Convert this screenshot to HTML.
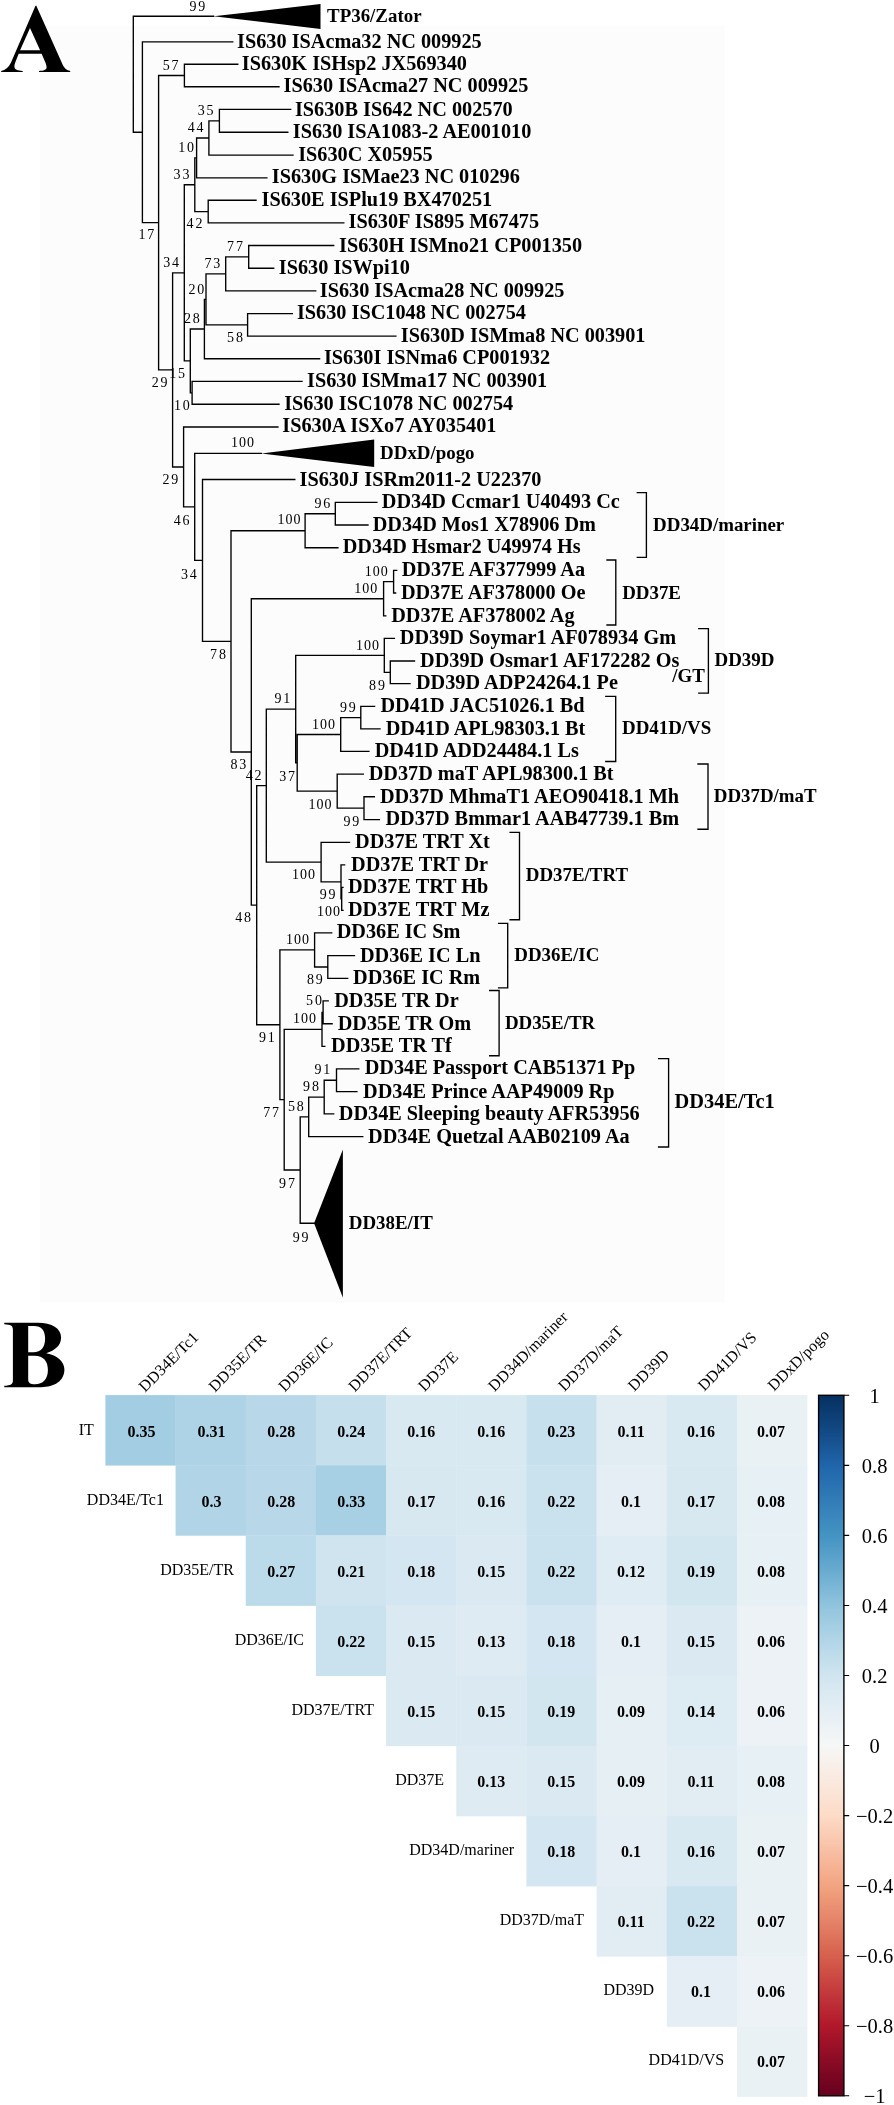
<!DOCTYPE html><html><head><meta charset="utf-8"><style>html,body{margin:0;padding:0;background:#fff;}svg{display:block;will-change:transform}.l{font:bold 20.25px "Liberation Serif",serif;fill:#000}.c{font-family:"Liberation Serif",serif;font-weight:bold;fill:#000}.b{font:14px "Liberation Serif",serif;fill:#000;letter-spacing:1.8px}.b3{letter-spacing:1.0px}.v{font:bold 16px "Liberation Serif",serif;fill:#000;text-anchor:middle}.r{font:16px "Liberation Serif",serif;fill:#000;text-anchor:end}.cl{font:16px "Liberation Serif",serif;fill:#000}.t{font:20.5px "Liberation Serif",serif;fill:#000;text-anchor:middle}</style></head><body><svg width="894" height="2105" viewBox="0 0 894 2105"><rect x="40" y="26" width="684.6" height="1276.4" fill="#fcfcfc"/><path fill-rule="evenodd" fill="#000" d="M36.2 5.4L62.6 64.6C64.5 68.6 66.5 70.3 70.2 70.9L70.2 72.1L39 72.1L39 70.9C43.5 70.6 46.6 69.8 46.6 67.4C46.6 66 46 64 45.3 62.3L41.6 53.7L18.7 53.7L15.6 61.5C14.8 63.5 14.4 65.2 14.4 66.5C14.4 69.6 17.5 70.7 22.7 70.9L22.7 72.1L1.2 72.1L1.2 70.9C5.5 70.3 8.5 67.5 10.9 62.8L35.4 6ZM30 28.1L40.1 50.2L20.1 50.2Z"/><path d="M133.3 16.3H213.6M142.4 41.9H232.75M184.4 64.2H237.8M184.4 86.7H279M184.4 64.2V86.7M158.6 75.45H184.4M219.4 109.4H290.7M219.4 132.2H287.8M219.4 109.4V132.2M208.9 120.8H219.4M208.9 155.1H293M208.9 120.8V155.1M196.6 137.95H208.9M196.6 177.9H266.9M196.6 137.95V177.9M194.8 157.93H196.6M208.2 200.2H256M208.2 222.9H343.8M208.2 200.2V222.9M194.8 211.55H208.2M194.8 157.93V211.55M184.3 184.74H194.8M248.7 245.5H333.7M248.7 268.2H273.7M248.7 245.5V268.2M225.7 256.85H248.7M225.7 290.9H315.7M225.7 256.85V290.9M206 273.88H225.7M247.6 313.6H292.3M247.6 336.1H395.9M247.6 313.6V336.1M206 324.85H247.6M206 273.88V324.85M204.4 299.36H206M204.4 358.7H319.6M204.4 299.36V358.7M190.3 329.03H204.4M192.1 381.4H302M192.1 404.2H279M192.1 381.4V404.2M190.3 392.8H192.1M190.3 329.03V392.8M184.3 360.92H190.3M184.3 184.74V360.92M172.6 272.83H184.3M183.6 427H277.9M194.7 453.4H261.4M202.5 479.5H294.8M335.3 502.4H376.9M335.3 525H368M335.3 502.4V525M305.1 513.7H335.3M305.1 547.7H337.9M305.1 513.7V547.7M231 530.7H305.1M393.6 570.3H396.7M393.6 593H395.6M393.6 570.3V593M383.6 581.65H393.6M383.6 615.8H385.8M383.6 581.65V615.8M251.3 598.72H383.6M384.3 638.3H394.4M390.3 661H414.5M390.3 683.6H410M390.3 661V683.6M384.3 672.3H390.3M384.3 638.3V672.3M295.7 655.3H384.3M360.8 706.3H374.6M360.8 728.8H380M360.8 706.3V728.8M340.7 717.55H360.8M340.7 751.4H368.9M340.7 717.55V751.4M297.2 734.47H340.7M337.2 774.1H363.3M364 796.7H374.3M364 819.6H379.4M364 796.7V819.6M337.2 808.15H364M337.2 774.1V808.15M297.2 791.12H337.2M297.2 734.47V791.12M295.7 762.8H297.2M295.7 655.3V762.8M266.3 709.05H295.7M321.1 842.3H349.5M341 864.9H344.6M341.7 887.3H343M341.7 910.3H343M341.7 887.3V910.3M341 898.8H341.7M341 864.9V898.8M321.1 881.85H341M321.1 842.3V881.85M266.3 862.07H321.1M266.3 709.05V862.07M256.7 785.56H266.3M314.6 932.9H331.7M327.8 955.6H354.5M327.8 978.3H347.7M327.8 955.6V978.3M314.6 966.95H327.8M314.6 932.9V966.95M279.9 949.92H314.6M323.1 1000.9H328.2M323.1 1023.7H332.1M323.1 1000.9V1023.7M322 1012.3H323.1M322 1046.3H324.8M322 1012.3V1046.3M284.2 1029.3H322M336.5 1068.9H358.8M336.5 1091.6H356.9M336.5 1068.9V1091.6M324.2 1080.25H336.5M324.2 1113.9H333.7M324.2 1080.25V1113.9M308.7 1097.08H324.2M308.7 1136.6H362.75M308.7 1097.08V1136.6M300.2 1116.84H308.7M300.2 1223.2H314.1M300.2 1116.84V1223.2M284.2 1170.02H300.2M284.2 1029.3V1170.02M279.9 1099.66H284.2M279.9 949.92V1099.66M256.7 1024.79H279.9M256.7 785.56V1024.79M251.3 905.18H256.7M251.3 598.72V905.18M231 751.95H251.3M231 530.7V751.95M202.5 641.33H231M202.5 479.5V641.33M194.7 560.41H202.5M194.7 453.4V560.41M183.6 506.91H194.7M183.6 427V506.91M172.6 466.95H183.6M172.6 272.83V466.95M158.6 369.89H172.6M158.6 75.45V369.89M142.4 222.67H158.6M142.4 41.9V222.67M133.3 132.28H142.4M133.3 16.3V132.28M637.3 492.6H646.4V557.3H637.3M607 560H615.8V625H607M698.8 628.6H708.4V693.1H698.8M605.8 696.3H615.7V761.5H605.8M698 764H708V829.2H698M510.1 832.3H519.5V919.7H510.1M498.6 923.3H507.7V987.8H498.6M489.7 990.5H499.1V1055.7H489.7M658.6 1058.6H668.6V1147H658.6" stroke="#000" stroke-width="1.35" fill="none" stroke-linecap="square"/><path d="M213.6 16.3L320.5 4L320.5 29Z" fill="#000"/><path d="M261.4 453.4L374.2 439.4L374.2 467Z" fill="#000"/><path d="M314.1 1223.2L342.9 1149.4L342.9 1297.7Z" fill="#000"/><text class="l" x="237.05" y="47.5">IS630 ISAcma32 NC 009925</text><text class="l" x="241.85" y="70.3">IS630K ISHsp2 JX569340</text><text class="l" x="283.57" y="92.4">IS630 ISAcma27 NC 009925</text><text class="l" x="294.95" y="115.7">IS630B IS642 NC 002570</text><text class="l" x="292.77" y="138">IS630 ISA1083-2 AE001010</text><text class="l" x="298.2" y="160.7">IS630C X05955</text><text class="l" x="271.8" y="183.3">IS630G ISMae23 NC 010296</text><text class="l" x="261.57" y="206">IS630E ISPlu19 BX470251</text><text class="l" x="348.57" y="228.2">IS630F IS895 M67475</text><text class="l" x="339" y="251.7">IS630H ISMno21 CP001350</text><text class="l" x="278.8" y="274.1">IS630 ISWpi10</text><text class="l" x="319.75" y="296.7">IS630 ISAcma28 NC 009925</text><text class="l" x="296.95" y="319.4">IS630 ISC1048 NC 002754</text><text class="l" x="400.8" y="342.3">IS630D ISMma8 NC 003901</text><text class="l" x="323.95" y="364.1">IS630I ISNma6 CP001932</text><text class="l" x="307" y="387.2">IS630 ISMma17 NC 003901</text><text class="l" x="284.2" y="409.9">IS630 ISC1078 NC 002754</text><text class="l" x="282.28" y="432.4">IS630A ISXo7 AY035401</text><text class="l" x="299.57" y="486">IS630J ISRm2011-2 U22370</text><text class="l" x="381.87" y="508.1">DD34D Ccmar1 U40493 Cc</text><text class="l" x="372.69" y="530.5">DD34D Mos1 X78906 Dm</text><text class="l" x="342.67" y="553.1">DD34D Hsmar2 U49974 Hs</text><text class="l" x="401.67" y="576.1">DD37E AF377999 Aa</text><text class="l" x="400.89" y="598.8">DD37E AF378000 Oe</text><text class="l" x="391.2" y="621.6">DD37E AF378002 Ag</text><text class="l" x="399.87" y="644.1">DD39D Soymar1 AF078934 Gm</text><text class="l" x="420.07" y="666.8">DD39D Osmar1 AF172282 Os</text><text class="l" x="416" y="689.4">DD39D ADP24264.1 Pe</text><text class="l" x="380.4" y="712.1">DD41D JAC51026.1 Bd</text><text class="l" x="385.67" y="734.6">DD41D APL98303.1 Bt</text><text class="l" x="374.65" y="757.2">DD41D ADD24484.1 Ls</text><text class="l" x="368.69" y="779.9">DD37D maT APL98300.1 Bt</text><text class="l" x="379.89" y="802.5">DD37D MhmaT1 AEO90418.1 Mh</text><text class="l" x="385.45" y="825.4">DD37D Bmmar1 AAB47739.1 Bm</text><text class="l" x="355.07" y="848.1">DD37E TRT Xt</text><text class="l" x="351.07" y="870.7">DD37E TRT Dr</text><text class="l" x="348" y="893.1">DD37E TRT Hb</text><text class="l" x="348" y="916.1">DD37E TRT Mz</text><text class="l" x="336.67" y="938.2">DD36E IC Sm</text><text class="l" x="360" y="961.8">DD36E IC Ln</text><text class="l" x="353.07" y="983.9">DD36E IC Rm</text><text class="l" x="334.2" y="1006.7">DD35E TR Dr</text><text class="l" x="337.65" y="1029.5">DD35E TR Om</text><text class="l" x="331.07" y="1052.1">DD35E TR Tf</text><text class="l" x="364.67" y="1074.2">DD34E Passport CAB51371 Pp</text><text class="l" x="363.07" y="1097.6">DD34E Prince AAP49009 Rp</text><text class="l" x="338.79" y="1119.5">DD34E Sleeping beauty AFR53956</text><text class="l" x="368.07" y="1142.9">DD34E Quetzal AAB02109 Aa</text><text class="c" x="653.1" y="530.5" font-size="18.9">DD34D/mariner</text><text class="c" x="622.2" y="598.9" font-size="18.9">DD37E</text><text class="c" x="714.5" y="666.3" font-size="18.9">DD39D</text><text class="c" x="672.2" y="682" font-size="18.9">/GT</text><text class="c" x="622" y="734.4" font-size="18.9">DD41D/VS</text><text class="c" x="713.8" y="802" font-size="18.9">DD37D/maT</text><text class="c" x="525.8" y="881" font-size="18.9">DD37E/TRT</text><text class="c" x="514.3" y="960.7" font-size="18.9">DD36E/IC</text><text class="c" x="504.9" y="1029.2" font-size="18.9">DD35E/TR</text><text class="c" x="674.6" y="1108.2" font-size="20.4">DD34E/Tc1</text><text class="c" x="327.1" y="22.1" font-size="18.9">TP36/Zator</text><text class="c" x="380.1" y="458.9" font-size="18.9">DDxD/pogo</text><text class="c" x="348.8" y="1229.3" font-size="18.9">DD38E/IT</text><text class="b" x="189.5" y="10.7">99</text><text class="b" x="162.7" y="69.5">57</text><text class="b" x="197.7" y="115.1">35</text><text class="b" x="187.8" y="132.1">44</text><text class="b" x="178.2" y="152.1">10</text><text class="b" x="173.6" y="179.1">33</text><text class="b" x="186.6" y="228.2">42</text><text class="b" x="138.5" y="238.5">17</text><text class="b" x="227.1" y="251">77</text><text class="b" x="204.4" y="268.1">73</text><text class="b" x="163.3" y="267.1">34</text><text class="b" x="188.5" y="293.5">20</text><text class="b" x="184" y="322.8">28</text><text class="b" x="227.1" y="342.1">58</text><text class="b" x="169.2" y="378.1">15</text><text class="b" x="151.8" y="387.1">29</text><text class="b" x="173.9" y="410.3">10</text><text class="b b3" x="231" y="446.7">100</text><text class="b" x="162.5" y="484.1">29</text><text class="b" x="173.8" y="524.5">46</text><text class="b" x="180.9" y="578.6">34</text><text class="b b3" x="277.4" y="524.2">100</text><text class="b" x="314.5" y="508.1">96</text><text class="b b3" x="364.7" y="575.9">100</text><text class="b b3" x="354.3" y="592.9">100</text><text class="b" x="210.1" y="659.1">78</text><text class="b b3" x="356.1" y="649.5">100</text><text class="b" x="369.1" y="690.4">89</text><text class="b" x="274.4" y="703.1">91</text><text class="b" x="339.9" y="711.5">99</text><text class="b b3" x="311.9" y="729.1">100</text><text class="b" x="230.4" y="769.1">83</text><text class="b" x="245.8" y="780.1">42</text><text class="b" x="279.2" y="780.9">37</text><text class="b b3" x="308.5" y="809.1">100</text><text class="b" x="343.4" y="826.1">99</text><text class="b b3" x="292.1" y="878.7">100</text><text class="b" x="319.8" y="899.3">99</text><text class="b b3" x="316.9" y="916.4">100</text><text class="b" x="235.2" y="922.3">48</text><text class="b b3" x="286" y="943.9">100</text><text class="b" x="307" y="983.8">89</text><text class="b" x="306.1" y="1005.2">50</text><text class="b b3" x="293.1" y="1022.5">100</text><text class="b" x="259" y="1042.1">91</text><text class="b" x="314.5" y="1074.3">91</text><text class="b" x="303.1" y="1090.7">98</text><text class="b" x="287.9" y="1110.6">58</text><text class="b" x="263.2" y="1116.7">77</text><text class="b" x="279.1" y="1188.1">97</text><text class="b" x="292.7" y="1241.5">99</text><path fill-rule="evenodd" fill="#000" d="M4.3 1322.8L37.6 1322.8C52 1322.8 61.1 1328.5 61.1 1337.6C61.1 1345.5 55 1350.5 46.2 1353.2C57.5 1355.2 64.4 1361.5 64.4 1369.6C64.4 1381 54.5 1387.2 41 1387.2L4.3 1387.2L4.3 1385.8C10.8 1385.5 12.9 1384.2 12.9 1380.5L12.9 1329.5C12.9 1325.8 10.8 1324.4 4.3 1324.2ZM28.2 1326L34 1326C41.5 1326 45.1 1330.5 45.1 1338.8C45.1 1347.5 41 1352.2 33.5 1352.2L28.2 1352.2ZM28.2 1355.7L34.5 1355.7C43.5 1355.7 47.9 1361.2 47.9 1370C47.9 1379.2 43 1384.3 35 1384.3C30.5 1384.3 28.2 1383 28.2 1379.5Z"/><rect x="105.4" y="1395.1" width="70.47" height="70.45" fill="#a2cde3"/><rect x="175.57" y="1395.1" width="70.47" height="70.45" fill="#aed3e6"/><rect x="245.74" y="1395.1" width="70.47" height="70.45" fill="#b8d8e9"/><rect x="315.91" y="1395.1" width="70.47" height="70.45" fill="#c5dfec"/><rect x="386.08" y="1395.1" width="70.47" height="70.45" fill="#d8e9f1"/><rect x="456.25" y="1395.1" width="70.47" height="70.45" fill="#d8e9f1"/><rect x="526.42" y="1395.1" width="70.47" height="70.45" fill="#c7e0ed"/><rect x="596.59" y="1395.1" width="70.47" height="70.45" fill="#e1edf3"/><rect x="666.76" y="1395.1" width="70.47" height="70.45" fill="#d8e9f1"/><rect x="736.93" y="1395.1" width="70.47" height="70.45" fill="#eaf1f5"/><rect x="175.57" y="1465.25" width="70.47" height="70.45" fill="#b1d5e7"/><rect x="245.74" y="1465.25" width="70.47" height="70.45" fill="#b8d8e9"/><rect x="315.91" y="1465.25" width="70.47" height="70.45" fill="#a7d0e4"/><rect x="386.08" y="1465.25" width="70.47" height="70.45" fill="#d7e8f1"/><rect x="456.25" y="1465.25" width="70.47" height="70.45" fill="#d8e9f1"/><rect x="526.42" y="1465.25" width="70.47" height="70.45" fill="#cae1ee"/><rect x="596.59" y="1465.25" width="70.47" height="70.45" fill="#e4eef4"/><rect x="666.76" y="1465.25" width="70.47" height="70.45" fill="#d7e8f1"/><rect x="736.93" y="1465.25" width="70.47" height="70.45" fill="#e7f0f4"/><rect x="245.74" y="1535.4" width="70.47" height="70.45" fill="#bbdaea"/><rect x="315.91" y="1535.4" width="70.47" height="70.45" fill="#cfe4ef"/><rect x="386.08" y="1535.4" width="70.47" height="70.45" fill="#d4e6f1"/><rect x="456.25" y="1535.4" width="70.47" height="70.45" fill="#dae9f2"/><rect x="526.42" y="1535.4" width="70.47" height="70.45" fill="#cae1ee"/><rect x="596.59" y="1535.4" width="70.47" height="70.45" fill="#e0ecf3"/><rect x="666.76" y="1535.4" width="70.47" height="70.45" fill="#d2e6f0"/><rect x="736.93" y="1535.4" width="70.47" height="70.45" fill="#e7f0f4"/><rect x="315.91" y="1605.55" width="70.47" height="70.45" fill="#cae1ee"/><rect x="386.08" y="1605.55" width="70.47" height="70.45" fill="#dae9f2"/><rect x="456.25" y="1605.55" width="70.47" height="70.45" fill="#deebf2"/><rect x="526.42" y="1605.55" width="70.47" height="70.45" fill="#d4e6f1"/><rect x="596.59" y="1605.55" width="70.47" height="70.45" fill="#e4eef4"/><rect x="666.76" y="1605.55" width="70.47" height="70.45" fill="#dae9f2"/><rect x="736.93" y="1605.55" width="70.47" height="70.45" fill="#ecf2f5"/><rect x="386.08" y="1675.7" width="70.47" height="70.45" fill="#dae9f2"/><rect x="456.25" y="1675.7" width="70.47" height="70.45" fill="#dae9f2"/><rect x="526.42" y="1675.7" width="70.47" height="70.45" fill="#d2e6f0"/><rect x="596.59" y="1675.7" width="70.47" height="70.45" fill="#e6eff4"/><rect x="666.76" y="1675.7" width="70.47" height="70.45" fill="#ddebf2"/><rect x="736.93" y="1675.7" width="70.47" height="70.45" fill="#ecf2f5"/><rect x="456.25" y="1745.85" width="70.47" height="70.45" fill="#deebf2"/><rect x="526.42" y="1745.85" width="70.47" height="70.45" fill="#dae9f2"/><rect x="596.59" y="1745.85" width="70.47" height="70.45" fill="#e6eff4"/><rect x="666.76" y="1745.85" width="70.47" height="70.45" fill="#e1edf3"/><rect x="736.93" y="1745.85" width="70.47" height="70.45" fill="#e7f0f4"/><rect x="526.42" y="1816" width="70.47" height="70.45" fill="#d4e6f1"/><rect x="596.59" y="1816" width="70.47" height="70.45" fill="#e4eef4"/><rect x="666.76" y="1816" width="70.47" height="70.45" fill="#d8e9f1"/><rect x="736.93" y="1816" width="70.47" height="70.45" fill="#eaf1f5"/><rect x="596.59" y="1886.15" width="70.47" height="70.45" fill="#e1edf3"/><rect x="666.76" y="1886.15" width="70.47" height="70.45" fill="#cae1ee"/><rect x="736.93" y="1886.15" width="70.47" height="70.45" fill="#eaf1f5"/><rect x="666.76" y="1956.3" width="70.47" height="70.45" fill="#e4eef4"/><rect x="736.93" y="1956.3" width="70.47" height="70.45" fill="#ecf2f5"/><rect x="736.93" y="2026.45" width="70.47" height="70.45" fill="#eaf1f5"/><text class="v" x="141.45" y="1436.6">0.35</text><text class="v" x="211.4" y="1436.6">0.31</text><text class="v" x="281.35" y="1436.6">0.28</text><text class="v" x="351.3" y="1436.6">0.24</text><text class="v" x="421.25" y="1436.6">0.16</text><text class="v" x="491.2" y="1436.6">0.16</text><text class="v" x="561.15" y="1436.6">0.23</text><text class="v" x="631.1" y="1436.6">0.11</text><text class="v" x="701.05" y="1436.6">0.16</text><text class="v" x="771" y="1436.6">0.07</text><text class="r" x="93.9" y="1434.9">IT</text><text class="v" x="211.4" y="1506.64">0.3</text><text class="v" x="281.35" y="1506.64">0.28</text><text class="v" x="351.3" y="1506.64">0.33</text><text class="v" x="421.25" y="1506.64">0.17</text><text class="v" x="491.2" y="1506.64">0.16</text><text class="v" x="561.15" y="1506.64">0.22</text><text class="v" x="631.1" y="1506.64">0.1</text><text class="v" x="701.05" y="1506.64">0.17</text><text class="v" x="771" y="1506.64">0.08</text><text class="r" x="163.93" y="1504.9">DD34E/Tc1</text><text class="v" x="281.35" y="1576.68">0.27</text><text class="v" x="351.3" y="1576.68">0.21</text><text class="v" x="421.25" y="1576.68">0.18</text><text class="v" x="491.2" y="1576.68">0.15</text><text class="v" x="561.15" y="1576.68">0.22</text><text class="v" x="631.1" y="1576.68">0.12</text><text class="v" x="701.05" y="1576.68">0.19</text><text class="v" x="771" y="1576.68">0.08</text><text class="r" x="233.96" y="1574.9">DD35E/TR</text><text class="v" x="351.3" y="1646.72">0.22</text><text class="v" x="421.25" y="1646.72">0.15</text><text class="v" x="491.2" y="1646.72">0.13</text><text class="v" x="561.15" y="1646.72">0.18</text><text class="v" x="631.1" y="1646.72">0.1</text><text class="v" x="701.05" y="1646.72">0.15</text><text class="v" x="771" y="1646.72">0.06</text><text class="r" x="303.99" y="1644.9">DD36E/IC</text><text class="v" x="421.25" y="1716.76">0.15</text><text class="v" x="491.2" y="1716.76">0.15</text><text class="v" x="561.15" y="1716.76">0.19</text><text class="v" x="631.1" y="1716.76">0.09</text><text class="v" x="701.05" y="1716.76">0.14</text><text class="v" x="771" y="1716.76">0.06</text><text class="r" x="374.02" y="1714.9">DD37E/TRT</text><text class="v" x="491.2" y="1786.8">0.13</text><text class="v" x="561.15" y="1786.8">0.15</text><text class="v" x="631.1" y="1786.8">0.09</text><text class="v" x="701.05" y="1786.8">0.11</text><text class="v" x="771" y="1786.8">0.08</text><text class="r" x="444.05" y="1784.9">DD37E</text><text class="v" x="561.15" y="1856.84">0.18</text><text class="v" x="631.1" y="1856.84">0.1</text><text class="v" x="701.05" y="1856.84">0.16</text><text class="v" x="771" y="1856.84">0.07</text><text class="r" x="514.08" y="1854.9">DD34D/mariner</text><text class="v" x="631.1" y="1926.88">0.11</text><text class="v" x="701.05" y="1926.88">0.22</text><text class="v" x="771" y="1926.88">0.07</text><text class="r" x="584.11" y="1924.9">DD37D/maT</text><text class="v" x="701.05" y="1996.92">0.1</text><text class="v" x="771" y="1996.92">0.06</text><text class="r" x="654.14" y="1994.9">DD39D</text><text class="v" x="771" y="2066.96">0.07</text><text class="r" x="724.17" y="2064.9">DD41D/VS</text><text class="cl" transform="translate(145 1392.8) rotate(-45)">DD34E/Tc1</text><text class="cl" transform="translate(214.9 1392.68) rotate(-45)">DD35E/TR</text><text class="cl" transform="translate(284.8 1392.56) rotate(-45)">DD36E/IC</text><text class="cl" transform="translate(354.7 1392.44) rotate(-45)">DD37E/TRT</text><text class="cl" transform="translate(424.6 1392.32) rotate(-45)">DD37E</text><text class="cl" transform="translate(494.5 1392.2) rotate(-45)">DD34D/mariner</text><text class="cl" transform="translate(564.4 1392.08) rotate(-45)">DD37D/maT</text><text class="cl" transform="translate(634.3 1391.96) rotate(-45)">DD39D</text><text class="cl" transform="translate(704.2 1391.84) rotate(-45)">DD41D/VS</text><text class="cl" transform="translate(774.1 1391.72) rotate(-45)">DDxD/pogo</text><defs><linearGradient id="cb" x1="0" y1="0" x2="0" y2="1"><stop offset="0" stop-color="#053061"/><stop offset="0.05" stop-color="#124984"/><stop offset="0.1" stop-color="#2065ab"/><stop offset="0.15" stop-color="#327cb7"/><stop offset="0.2" stop-color="#4393c3"/><stop offset="0.25" stop-color="#68abd0"/><stop offset="0.3" stop-color="#90c4dd"/><stop offset="0.35" stop-color="#b1d5e7"/><stop offset="0.4" stop-color="#d1e5f0"/><stop offset="0.45" stop-color="#e4eef4"/><stop offset="0.5" stop-color="#f6f7f7"/><stop offset="0.55" stop-color="#fae9df"/><stop offset="0.6" stop-color="#fddbc7"/><stop offset="0.65" stop-color="#f8bfa4"/><stop offset="0.7" stop-color="#f3a481"/><stop offset="0.75" stop-color="#e58368"/><stop offset="0.8" stop-color="#d6604d"/><stop offset="0.85" stop-color="#c43b3c"/><stop offset="0.9" stop-color="#b1182b"/><stop offset="0.95" stop-color="#8a0b25"/><stop offset="1" stop-color="#67001f"/></linearGradient></defs><rect x="818.6" y="1395.3" width="25.3" height="700.5" fill="url(#cb)" stroke="#000" stroke-width="1.4"/><text class="t" x="874.6" y="1402.8">1</text><text class="t" x="874.6" y="1472.85">0.8</text><text class="t" x="874.6" y="1542.9">0.6</text><text class="t" x="874.6" y="1612.95">0.4</text><text class="t" x="874.6" y="1683">0.2</text><text class="t" x="874.6" y="1753.05">0</text><text class="t" x="874.6" y="1823.1">−0.2</text><text class="t" x="874.6" y="1893.15">−0.4</text><text class="t" x="874.6" y="1963.2">−0.6</text><text class="t" x="874.6" y="2033.25">−0.8</text><text class="t" x="874.6" y="2103.3">−1</text><path d="M843.9 1395.3H849.2M843.9 1465.35H849.2M843.9 1535.4H849.2M843.9 1605.45H849.2M843.9 1675.5H849.2M843.9 1745.55H849.2M843.9 1815.6H849.2M843.9 1885.65H849.2M843.9 1955.7H849.2M843.9 2025.75H849.2M843.9 2095.8H849.2" stroke="#000" stroke-width="1.1" fill="none"/></svg></body></html>
